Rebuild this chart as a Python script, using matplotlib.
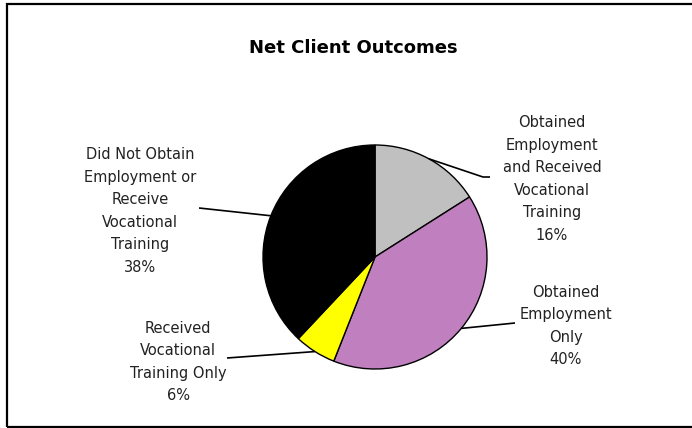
import numpy as np
import matplotlib
matplotlib.use("Agg")
import matplotlib.pyplot as plt
from matplotlib.patches import Rectangle

# ---- data ----
categories = [
    "Obtained\nEmployment\nand Received\nVocational\nTraining",
    "Obtained\nEmployment\nOnly",
    "Received\nVocational\nTraining Only",
    "Did Not Obtain\nEmployment or\nReceive\nVocational\nTraining",
]
values = [16, 40, 6, 38]
colors = ["#C0C0C0", "#C080C0", "#FFFF00", "#000000"]
title = "Net Client Outcomes"

W, H = 692, 428
fig = plt.figure(figsize=(W / 100, H / 100), dpi=100)
ax = fig.add_axes([0, 0, 1, 1])

# outer border
fig.patches.append(Rectangle((7 / W, 1 / H), (W + 10) / W, (H - 5) / H,
                             transform=fig.transFigure, fill=False,
                             edgecolor="black", linewidth=1.6))

cx, cy, r = 375, H - 257, 112
wedges, _ = ax.pie(values, colors=colors, startangle=90, counterclock=False,
                   center=(cx, cy), radius=r, frame=True,
                   wedgeprops=dict(edgecolor="black", linewidth=1.0))
ax.set_xlim(0, W)
ax.set_ylim(0, H)
ax.set_aspect("equal")
ax.axis("off")

ax.text(353, H - 48, title, ha="center", va="center", fontsize=13,
        fontweight="bold", color="black")

# label positions (text center) and leader-line elbow points (image coords)
label_pos = [(552, 179), (566, 326), (178, 362), (140, 211)]
elbows = [[(483, 177), (490, 177)], [(515, 323)], [(227, 358)], [(199, 208)]]

for w, cat, v, (lx, ly), elb in zip(wedges, categories, values, label_pos, elbows):
    ang = np.deg2rad((w.theta1 + w.theta2) / 2)
    ex, ey = cx + r * np.cos(ang), cy + r * np.sin(ang)
    xs = [ex] + [p[0] for p in elb]
    ys = [ey] + [H - p[1] for p in elb]
    ax.plot(xs, ys, color="black", linewidth=1.2, solid_capstyle="butt")
    ax.text(lx, H - ly, f"{cat}\n{v}%", ha="center", va="center",
            fontsize=10.5, color="#222222", linespacing=1.62)

fig.savefig("out.png", dpi=100)
